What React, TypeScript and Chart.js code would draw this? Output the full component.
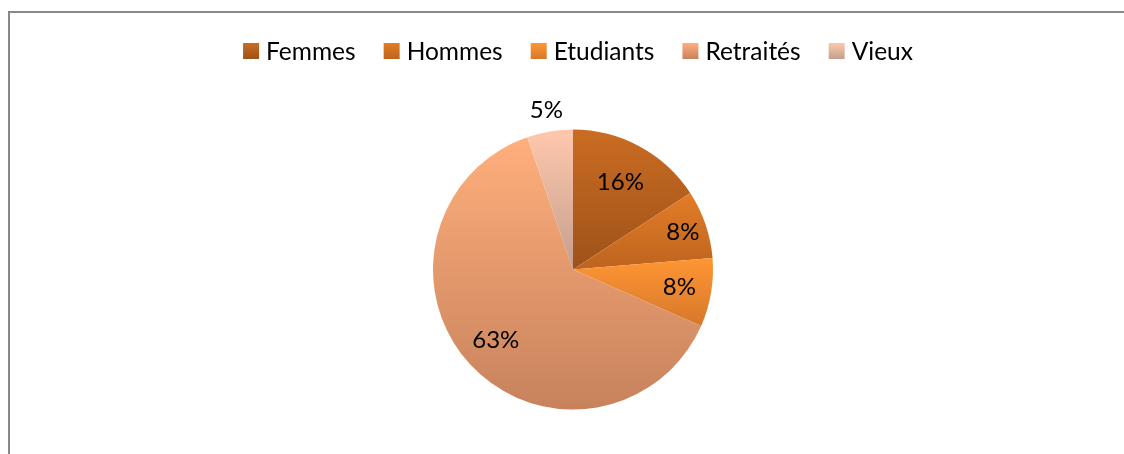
import React, { useEffect, useRef } from "react";
import { Chart, registerables } from "chart.js";

Chart.register(...registerables);

// ---- data ----
const categories = ["Femmes", "Hommes", "Etudiants", "Retraités", "Vieux"];
const shares = [15.8, 7.9, 7.9, 63.1, 5.3];
const percentLabels = ["16%", "8%", "8%", "63%", "5%"];

// ---- styles ----
const topColors = ["#CA6C23", "#E37D27", "#FF9634", "#FFAF7C", "#FFC8AD"];
const bottomColors = ["#9E5219", "#BD641F", "#D6782A", "#C7825C", "#C49E8E"];
const labelRadiusFactor = [0.71, 0.83, 0.77, 0.75, 1.15];
const FONT = "Lato, 'Open Sans', sans-serif";
const PIE_RADIUS = 140;

function sliceBounds(area: any, i: number) {
  const cy = (area.top + area.bottom) / 2;
  const total = shares.reduce((s, v) => s + v, 0);
  let cum = 0;
  for (let j = 0; j < i; j++) cum += shares[j];
  const a0 = -Math.PI / 2 + (2 * Math.PI * cum) / total;
  const a1 = a0 + (2 * Math.PI * shares[i]) / total;
  const ys = [cy, cy + PIE_RADIUS * Math.sin(a0), cy + PIE_RADIUS * Math.sin(a1)];
  for (const t of [-Math.PI / 2, Math.PI / 2, (3 * Math.PI) / 2]) {
    if (t >= a0 - 1e-9 && t <= a1 + 1e-9) ys.push(cy + PIE_RADIUS * Math.sin(t));
  }
  return { minY: Math.min(...ys), maxY: Math.max(...ys) };
}

function sliceFill(ctx: any) {
  const i = ctx.dataIndex ?? 0;
  const chart = ctx.chart;
  const area = chart.chartArea;
  if (!area) return topColors[i];
  const { minY, maxY } = sliceBounds(area, i);
  const g = chart.ctx.createLinearGradient(0, minY, 0, maxY);
  g.addColorStop(0, topColors[i]);
  g.addColorStop(1, bottomColors[i]);
  return g;
}

const legendPlugin = {
  id: "officeLegend",
  afterDraw(chart: any) {
    const ctx = chart.ctx;
    const area = chart.chartArea;
    const box = 16;
    const gap = 7;
    const spacing = 28;
    ctx.save();
    ctx.font = `24.5px ${FONT}`;
    const widths = categories.map((c) => ctx.measureText(c).width);
    const total =
      widths.reduce((s, w) => s + box + gap + w, 0) + spacing * (categories.length - 1);
    let x = (area.left + area.right) / 2 + 5 - total / 2;
    const boxTop = 30;
    categories.forEach((c, i) => {
      const g = ctx.createLinearGradient(0, boxTop, 0, boxTop + box);
      g.addColorStop(0, topColors[i]);
      g.addColorStop(1, bottomColors[i]);
      ctx.fillStyle = g;
      ctx.fillRect(x, boxTop, box, box);
      ctx.fillStyle = "#000";
      ctx.textAlign = "left";
      ctx.textBaseline = "middle";
      ctx.fillText(c, x + box + gap, boxTop + box / 2 + 1);
      x += box + gap + widths[i] + spacing;
    });
    ctx.restore();
  },
};

const labelPlugin = {
  id: "pieLabels",
  afterDatasetsDraw(chart: any) {
    const ctx = chart.ctx;
    const meta = chart.getDatasetMeta(0);
    ctx.save();
    ctx.font = `24px ${FONT}`;
    ctx.fillStyle = "#000";
    ctx.textAlign = "center";
    ctx.textBaseline = "middle";
    meta.data.forEach((arc: any, i: number) => {
      const p = arc.getProps(["x", "y", "startAngle", "endAngle", "outerRadius"], true);
      const mid = (p.startAngle + p.endAngle) / 2;
      const r = p.outerRadius * labelRadiusFactor[i];
      ctx.fillText(percentLabels[i], p.x + Math.cos(mid) * r, p.y + Math.sin(mid) * r);
    });
    ctx.restore();
  },
};

export default function App() {
  const ref = useRef<HTMLCanvasElement | null>(null);
  useEffect(() => {
    if (!ref.current) return;
    const chart = new Chart(ref.current, {
      type: "pie",
      data: {
        labels: categories,
        datasets: [
          {
            data: shares,
            backgroundColor: sliceFill as any,
            borderWidth: 0,
            radius: PIE_RADIUS,
          } as any,
        ],
      },
      options: {
        animation: false,
        responsive: false,
        devicePixelRatio: 1,
        layout: { padding: { left: 12, right: 0, top: 72, bottom: 0 } },
        plugins: {
          legend: { display: false },
          tooltip: { enabled: false },
          title: { display: false },
        },
      } as any,
      plugins: [labelPlugin, legendPlugin],
    });
    return () => chart.destroy();
  }, []);
  return (
    <div
      style={{
        position: "absolute",
        left: 8,
        top: 11,
        width: 1114,
        height: 441,
        borderLeft: "2px solid #888",
        borderTop: "2px solid #888",
        overflow: "hidden",
        background: "#fff",
      }}
    >
      <canvas ref={ref} width={1114} height={441} style={{ display: "block" }} />
    </div>
  );
}
